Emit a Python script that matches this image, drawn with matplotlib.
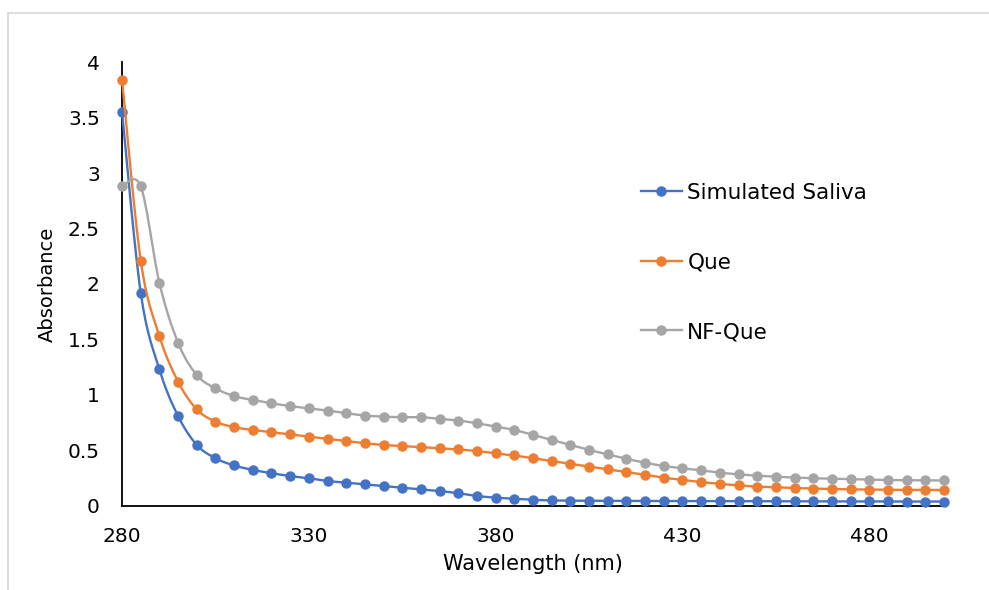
"""
UV-Vis absorbance spectra in simulated saliva (Excel-style smoothed lines).
"""

import matplotlib
matplotlib.use("Agg")
import matplotlib.pyplot as plt
import numpy as np
from matplotlib.lines import Line2D


wavelength = list(range(280, 501, 5))

saliva = [
    3.55, 1.92, 1.23, 0.81, 0.55, 0.43, 0.365, 0.325, 0.295, 0.27,
    0.25, 0.225, 0.21, 0.195, 0.18, 0.165, 0.15, 0.135, 0.115, 0.09,
    0.075, 0.065, 0.055, 0.05, 0.048, 0.047, 0.046, 0.046, 0.045, 0.045,
    0.045, 0.044, 0.044, 0.043, 0.043, 0.043, 0.042, 0.042, 0.042, 0.041,
    0.041, 0.041, 0.04, 0.04, 0.04,
]

que = [
    3.84, 2.21, 1.53, 1.12, 0.87, 0.76, 0.71, 0.685, 0.665, 0.645,
    0.625, 0.605, 0.585, 0.565, 0.55, 0.54, 0.53, 0.52, 0.51, 0.495,
    0.475, 0.455, 0.43, 0.405, 0.38, 0.355, 0.33, 0.305, 0.28, 0.255,
    0.235, 0.215, 0.2, 0.185, 0.175, 0.168, 0.162, 0.157, 0.153, 0.15,
    0.148, 0.146, 0.145, 0.144, 0.144,
]

nf_que = [
    2.88, 2.88, 2.01, 1.47, 1.18, 1.06, 0.99, 0.955, 0.925, 0.90,
    0.88, 0.86, 0.835, 0.815, 0.805, 0.80, 0.80, 0.785, 0.77, 0.745,
    0.715, 0.685, 0.64, 0.595, 0.55, 0.505, 0.465, 0.425, 0.39, 0.36,
    0.34, 0.32, 0.30, 0.285, 0.273, 0.264, 0.256, 0.25, 0.246, 0.241,
    0.237, 0.234, 0.232, 0.231, 0.23,
]

series_names = ["Simulated Saliva", "Que", "NF-Que"]
series_colors = ["#4472C4", "#ED7D31", "#A5A5A5"]

x_ticks = [280, 330, 380, 430, 480]
y_ticks = [0, 0.5, 1, 1.5, 2, 2.5, 3, 3.5, 4]


def smooth_curve(x, y, samples=16):
    """
    Bezier smoothing through the points, similar to Excel's smoothed line.
    """
    x = np.asarray(x, dtype=float)
    y = np.asarray(y, dtype=float)
    px = np.concatenate([[x[0]], x, [x[-1]]])
    py = np.concatenate([[y[0]], y, [y[-1]]])
    t = np.linspace(0, 1, samples)
    out_x, out_y = [], []
    for i in range(1, len(px) - 2):
        b0x, b0y = px[i], py[i]
        b3x, b3y = px[i + 1], py[i + 1]
        b1x = b0x + (px[i + 1] - px[i - 1]) / 6
        b1y = b0y + (py[i + 1] - py[i - 1]) / 6
        b2x = b3x - (px[i + 2] - px[i]) / 6
        b2y = b3y - (py[i + 2] - py[i]) / 6
        u = 1 - t
        out_x.append(u**3 * b0x + 3 * u**2 * t * b1x + 3 * u * t**2 * b2x + t**3 * b3x)
        out_y.append(u**3 * b0y + 3 * u**2 * t * b1y + 3 * u * t**2 * b2y + t**3 * b3y)
    return np.concatenate(out_x), np.concatenate(out_y)


plt.rcParams["font.family"] = ["DejaVu Sans"]

fig = plt.figure(figsize=(9.89, 5.90), dpi=100)
ax = fig.add_axes([0.1234, 0.1424, 0.8311, 0.7525])

handles = []
for i, (name, values, color) in enumerate(
    zip(series_names, [saliva, que, nf_que], series_colors)
):
    sx, sy = smooth_curve(wavelength, values)
    ax.plot(sx, sy, color=color, linewidth=1.7, zorder=3 + i, clip_on=False)
    ax.plot(
        wavelength,
        values,
        linestyle="none",
        marker="o",
        markersize=6.5,
        color=color,
        zorder=3 + i,
        clip_on=False,
    )
    handles.append(
        Line2D([], [], color=color, linewidth=1.7, marker="o", markersize=6.5)
    )

ax.set_xlim(280, 500)
ax.set_ylim(0, 4)
ax.set_xticks(x_ticks)
ax.set_yticks(y_ticks)
ax.set_yticklabels(["0", "0.5", "1", "1.5", "2", "2.5", "3", "3.5", "4"])

ax.tick_params(axis="both", length=0, labelsize=14.5, colors="#000000")
ax.tick_params(axis="y", pad=16)
ax.tick_params(axis="x", pad=15)

for side in ["top", "right"]:
    ax.spines[side].set_visible(False)
for side in ["left", "bottom"]:
    ax.spines[side].set_color("#000000")
    ax.spines[side].set_linewidth(1.3)

ax.set_xlabel("Wavelength (nm)", fontsize=15, labelpad=6)
ax.set_ylabel("Absorbance", fontsize=14, labelpad=8)

ax.legend(
    handles,
    series_names,
    loc="upper left",
    bbox_to_anchor=(641 / 989, 1 - 183 / 590),
    bbox_transform=fig.transFigure,
    frameon=False,
    fontsize=15.5,
    handlelength=1.9,
    handletextpad=0.25,
    labelspacing=2.3,
    borderpad=0,
    borderaxespad=0,
)

# light chart-area border, cut off at the right and bottom
left_x = 8 / 989
top_y = 1 - 13 / 590
fig.add_artist(Line2D([left_x, left_x], [0, top_y], color="#D9D9D9", linewidth=1.3))
fig.add_artist(Line2D([left_x, 1], [top_y, top_y], color="#D9D9D9", linewidth=1.3))

fig.savefig("out.png", dpi=100)
